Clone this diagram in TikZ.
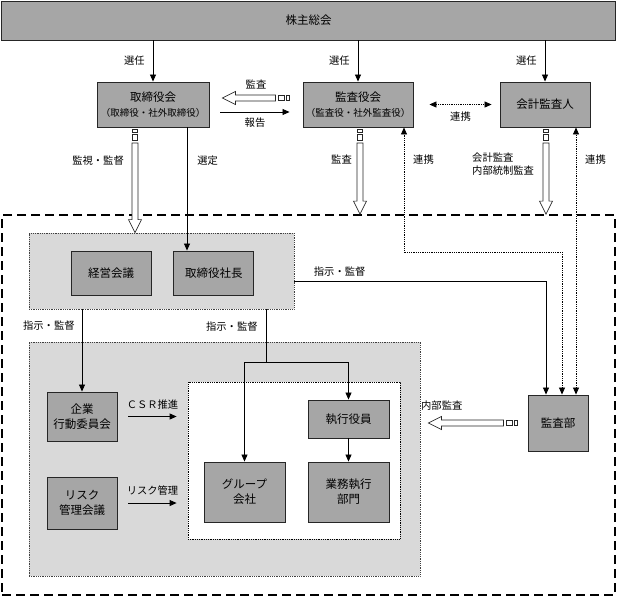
\documentclass[tikz,border=0pt]{standalone}
\usepackage{fontspec}
\setmainfont{Noto Sans CJK JP}
\usepackage{tikz}
\usetikzlibrary{positioning,calc,arrows.meta}

\definecolor{boxgray}{RGB}{166,166,166}
\definecolor{grpgray}{RGB}{217,217,217}

\tikzset{
  box/.style={draw=black!85, fill=boxgray, line width=0.9pt, align=center, inner sep=0pt, font=\fontsize{11.5}{15}\selectfont},
  grp/.style={draw=black!75, densely dotted, fill=grpgray, line width=0.8pt, inner sep=0pt},
  wgrp/.style={draw=black, densely dotted, fill=white, line width=0.8pt, inner sep=0pt},
  outer/.style={draw=black, dash pattern=on 9pt off 5pt, line width=1.8pt, inner sep=0pt},
  lbl/.style={font=\fontsize{10.3}{13.5}\selectfont, inner sep=1pt, align=left},
  arr/.style={-{Triangle[length=7pt,width=6pt]}, line width=0.8pt},
  link/.style={{Triangle[length=7pt,width=6pt]}-{Triangle[length=7pt,width=6pt]}, densely dotted, line width=0.8pt},
  hollow/.style={draw=black!85, fill=white, line width=0.7pt},
}

% hollow striped arrow: #1 = tail, #2 = tip
\newcommand{\hollowarrow}[2]{%
  \draw[hollow]
    (#2) -- ($(#2)!13pt!(#1)!6.5pt!90:(#1)$) -- ($(#2)!13pt!(#1)!3pt!90:(#1)$)
    -- ($(#1)!14pt!(#2)!3pt!-90:(#2)$) -- ($(#1)!14pt!(#2)!3pt!90:(#2)$)
    -- ($(#2)!13pt!(#1)!3pt!-90:(#1)$) -- ($(#2)!13pt!(#1)!6.5pt!-90:(#1)$) -- cycle;
  \draw[hollow] ($(#1)!2.5pt!90:(#2)$) rectangle ($(#1)!3pt!(#2)!2.5pt!-90:(#2)$);
  \draw[hollow] ($(#1)!5pt!(#2)!2.5pt!90:(#2)$) rectangle ($(#1)!11pt!(#2)!2.5pt!-90:(#2)$);
}

\begin{document}
\begin{tikzpicture}[x=1pt, y=-1pt]
\useasboundingbox (0,0) rectangle (617,598);
%----------------------------------
\node[outer, minimum width=613pt, minimum height=380pt] (naibu) at (308.5,405) {};
\node[grp, minimum width=265pt, minimum height=76pt] (keieigrp) at (161.5,271) {};
\node[grp, minimum width=391pt, minimum height=234pt] (jikkogrp) at (224.5,459) {};
\node[wgrp, minimum width=212pt, minimum height=157pt] (shikkogrp) at (294,460.5) {};
%----------------------------------
\node[box, minimum width=614pt, minimum height=39pt] (kabunushi) at (308.5,20.5) {株主総会};
\node[box, minimum width=112pt, minimum height=45pt] (torishimari) at (153,104.5)
  {取締役会\\{\fontsize{9.5}{12}\selectfont （取締役・社外取締役）}};
\node[box, minimum width=110pt, minimum height=45pt] (kansayaku) at (358,104.5)
  {監査役会\\{\fontsize{9.5}{12}\selectfont （監査役・社外監査役）}};
\node[box, minimum width=90pt, minimum height=45pt] (kaikei) at (545,104.5) {会計監査人};
%----------------------------------
\node[box, minimum width=80pt, minimum height=44pt] (keiei) at (111,273) {経営会議};
\node[box, minimum width=80pt, minimum height=44pt, right=22pt of keiei] (shacho) {取締役社長};
%----------------------------------
\node[box, minimum width=70pt, minimum height=49pt] (kigyo) at (82,416.5) {企業\\行動委員会};
\node[box, minimum width=70pt, minimum height=52pt] (risk) at (82,503) {リスク\\管理会議};
\node[box, minimum width=81pt, minimum height=38pt] (shikko) at (348.5,419) {執行役員};
\node[box, minimum width=81pt, minimum height=60pt] (gyomu) at (348.5,492) {業務執行\\部門};
\node[box, minimum width=81pt, minimum height=60pt] (group) at (244.5,492) {グループ\\会社};
\node[box, minimum width=60pt, minimum height=56pt] (kansabu) at (558,423) {監査部};
%----------------------------------
\foreach \n in {torishimari,kansayaku,kaikei}
  \draw[arr] (kabunushi.south -| \n) -- node[lbl, left=7pt] {選任} (\n.north);
%----------------------------------
\coordinate (kansaT) at ([shift={(-13pt,6.5pt)}]kansayaku.west);
\coordinate (kansaH) at ([shift={(13pt,6.5pt)}]torishimari.east);
\hollowarrow{kansaT}{kansaH}
\path (kansaT) -- node[lbl, above=8pt] {監査} (kansaH);
\draw[arr] ([shift={(11pt,-7.5pt)}]torishimari.east) -- node[lbl, below=4pt] {報告} ([shift={(-13pt,-7.5pt)}]kansayaku.west);
\draw[link] ([xshift=16pt]kansayaku.east) -- node[lbl, below=6pt] {連携} ([xshift=-8pt]kaikei.west);
%----------------------------------
\coordinate (kanshiT) at (135,129);
\coordinate (kanshiH) at (keieigrp.north -| kanshiT);
\hollowarrow{kanshiT}{kanshiH}
\path (kanshiT) -- node[lbl, pos=.3, left=10pt] {監視・監督} (kanshiH);
\draw[arr] (torishimari.south -| 187,0) -- node[lbl, pos=.27, right=9pt] {選定} (shacho.north -| 187,0);
\coordinate (kansa2T) at (360,129);
\coordinate (kansa2H) at (naibu.north -| kansa2T);
\hollowarrow{kansa2T}{kansa2H}
\path (kansa2T) -- node[lbl, pos=.36, left=7pt] {監査} (kansa2H);
\coordinate (kaikeiT) at (546,129);
\coordinate (kaikeiH) at (naibu.north -| kaikeiT);
\hollowarrow{kaikeiT}{kaikeiH}
\node[lbl, anchor=west] at (471,164) {会計監査\\内部統制監査};
%----------------------------------
\coordinate (rendo) at (404,252);
\coordinate (kaikeiL) at ([xshift=18pt]kansabu.north);
\draw[link] ([xshift=4pt]kansabu.north) |- (rendo) -- (kansayaku.south -| rendo);
\draw[link] (kaikeiL) -- (kaikeiL |- kaikei.south);
\node[lbl, right=8pt] at (rendo |- 0,160) {連携};
\node[lbl, right=8pt] at (kaikeiL |- 0,160) {連携};
\draw[arr] ([yshift=-10pt]keieigrp.east) -| node[lbl, pos=.09, above=3pt] {指示・監督} ([xshift=-12pt]kansabu.north);
%----------------------------------
\draw[arr] (keieigrp.south -| kigyo) -- node[lbl, pos=.2, left=6pt] {指示・監督} (kigyo.north);
\coordinate (bunki) at (266,362);
\draw[line width=0.8pt] (keieigrp.south -| bunki) -- node[lbl, pos=.32, left=7pt] {指示・監督} (bunki);
\draw[arr] (bunki) -| (group.north);
\draw[arr] (bunki) -| (shikko.north);
\draw[arr] (shikko) -- (gyomu);
%----------------------------------
\draw[arr] ([xshift=11pt]kigyo.east) -- node[lbl, above=6pt] {ＣＳＲ推進} ([xshift=-11pt]shikkogrp.west |- kigyo.east);
\draw[arr] ([xshift=11pt]risk.east) -- node[lbl, above=6pt] {リスク管理} ([xshift=-11pt]shikkogrp.west |- risk.east);
\coordinate (naibuT) at ([xshift=-10pt]kansabu.west);
\coordinate (naibuH) at ([xshift=8pt]jikkogrp.east |- naibuT);
\hollowarrow{naibuT}{naibuH}
\path (naibuT) -- node[lbl, pos=.85, above=11pt] {内部監査} (naibuH);
\end{tikzpicture}
\end{document}
